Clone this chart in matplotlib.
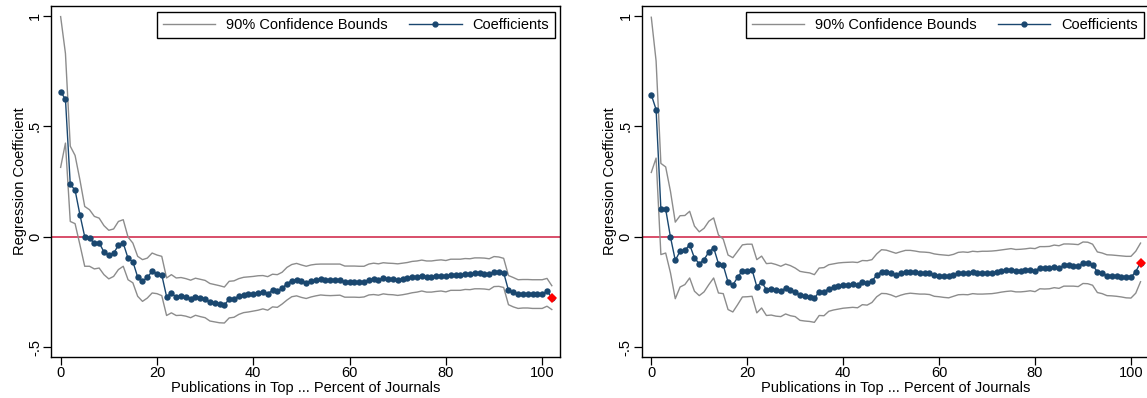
import matplotlib
matplotlib.use("Agg")
import matplotlib.pyplot as plt
from matplotlib.lines import Line2D

plt.rcParams['font.family'] = ['Liberation Sans', 'DejaVu Sans']

# x values: "top ... percent of journals"
pct = list(range(0, 103))

# left panel
left_coef = [
    0.656, 0.623, 0.237, 0.211, 0.100, 0.000, -0.008, -0.029, -0.028, -0.069,
    -0.084, -0.075, -0.039, -0.029, -0.098, -0.113, -0.183, -0.201, -0.184, -0.157,
    -0.167, -0.173, -0.271, -0.256, -0.273, -0.270, -0.274, -0.282, -0.271, -0.276,
    -0.281, -0.297, -0.302, -0.306, -0.308, -0.284, -0.281, -0.270, -0.264, -0.261,
    -0.258, -0.256, -0.252, -0.258, -0.243, -0.246, -0.234, -0.213, -0.199, -0.195,
    -0.202, -0.208, -0.200, -0.196, -0.193, -0.195, -0.196, -0.196, -0.195, -0.204,
    -0.204, -0.204, -0.205, -0.204, -0.195, -0.192, -0.195, -0.189, -0.192, -0.193,
    -0.195, -0.192, -0.189, -0.184, -0.181, -0.176, -0.181, -0.181, -0.178, -0.176,
    -0.180, -0.173, -0.173, -0.173, -0.169, -0.170, -0.166, -0.166, -0.167, -0.170,
    -0.158, -0.158, -0.163, -0.243, -0.252, -0.261, -0.259, -0.259, -0.261, -0.261,
    -0.261, -0.247, -0.276,
]
left_upper = [
    0.997, 0.830, 0.410, 0.368, 0.258, 0.137, 0.122, 0.092, 0.084, 0.050,
    0.029, 0.035, 0.069, 0.077, -0.002, -0.029, -0.089, -0.104, -0.097, -0.074,
    -0.083, -0.089, -0.187, -0.172, -0.187, -0.185, -0.190, -0.197, -0.188, -0.193,
    -0.198, -0.212, -0.217, -0.222, -0.228, -0.202, -0.200, -0.190, -0.184, -0.182,
    -0.180, -0.177, -0.176, -0.181, -0.170, -0.172, -0.161, -0.139, -0.126, -0.121,
    -0.128, -0.134, -0.128, -0.125, -0.124, -0.124, -0.124, -0.124, -0.124, -0.133,
    -0.133, -0.133, -0.134, -0.134, -0.124, -0.120, -0.123, -0.118, -0.120, -0.121,
    -0.123, -0.120, -0.117, -0.112, -0.110, -0.106, -0.110, -0.110, -0.107, -0.105,
    -0.108, -0.102, -0.102, -0.102, -0.099, -0.100, -0.096, -0.096, -0.097, -0.100,
    -0.090, -0.092, -0.098, -0.176, -0.185, -0.195, -0.194, -0.194, -0.195, -0.195,
    -0.195, -0.189, -0.222,
]
left_lower = [
    0.314, 0.424, 0.069, 0.059, -0.036, -0.134, -0.134, -0.146, -0.142, -0.172,
    -0.191, -0.180, -0.149, -0.134, -0.195, -0.209, -0.270, -0.293, -0.278, -0.255,
    -0.258, -0.267, -0.357, -0.345, -0.357, -0.356, -0.360, -0.367, -0.356, -0.362,
    -0.367, -0.382, -0.386, -0.390, -0.391, -0.368, -0.365, -0.352, -0.344, -0.341,
    -0.337, -0.333, -0.327, -0.333, -0.318, -0.320, -0.305, -0.287, -0.272, -0.268,
    -0.275, -0.280, -0.273, -0.268, -0.264, -0.266, -0.267, -0.266, -0.265, -0.274,
    -0.274, -0.274, -0.275, -0.273, -0.264, -0.262, -0.265, -0.259, -0.262, -0.263,
    -0.266, -0.263, -0.259, -0.254, -0.251, -0.246, -0.251, -0.251, -0.248, -0.246,
    -0.250, -0.243, -0.243, -0.243, -0.239, -0.240, -0.236, -0.236, -0.237, -0.240,
    -0.226, -0.225, -0.230, -0.308, -0.318, -0.325, -0.323, -0.323, -0.325, -0.325,
    -0.325, -0.315, -0.330,
]

# right panel
right_coef = [
    0.643, 0.576, 0.125, 0.124, -0.002, -0.107, -0.066, -0.062, -0.036, -0.097,
    -0.122, -0.104, -0.069, -0.050, -0.122, -0.130, -0.205, -0.219, -0.184, -0.154,
    -0.154, -0.149, -0.226, -0.205, -0.240, -0.236, -0.243, -0.246, -0.234, -0.243,
    -0.249, -0.266, -0.270, -0.273, -0.279, -0.249, -0.252, -0.235, -0.229, -0.225,
    -0.221, -0.219, -0.216, -0.219, -0.205, -0.209, -0.200, -0.175, -0.158, -0.159,
    -0.166, -0.175, -0.166, -0.161, -0.158, -0.161, -0.164, -0.164, -0.166, -0.175,
    -0.176, -0.178, -0.178, -0.173, -0.166, -0.164, -0.166, -0.160, -0.163, -0.164,
    -0.163, -0.163, -0.160, -0.155, -0.151, -0.149, -0.154, -0.154, -0.152, -0.149,
    -0.154, -0.142, -0.143, -0.143, -0.137, -0.142, -0.130, -0.130, -0.131, -0.134,
    -0.119, -0.119, -0.127, -0.160, -0.166, -0.176, -0.176, -0.178, -0.181, -0.184,
    -0.184, -0.158, -0.118,
]
right_upper = [
    0.994, 0.796, 0.332, 0.316, 0.205, 0.066, 0.095, 0.096, 0.115, 0.048,
    0.022, 0.038, 0.070, 0.085, 0.008, -0.011, -0.083, -0.095, -0.066, -0.037,
    -0.034, -0.034, -0.104, -0.088, -0.122, -0.120, -0.126, -0.134, -0.124, -0.131,
    -0.142, -0.157, -0.161, -0.164, -0.172, -0.142, -0.140, -0.127, -0.123, -0.119,
    -0.117, -0.116, -0.115, -0.117, -0.108, -0.109, -0.104, -0.078, -0.059, -0.061,
    -0.068, -0.075, -0.068, -0.062, -0.062, -0.065, -0.069, -0.070, -0.072, -0.078,
    -0.081, -0.083, -0.085, -0.080, -0.071, -0.069, -0.071, -0.066, -0.068, -0.066,
    -0.066, -0.065, -0.063, -0.060, -0.057, -0.054, -0.058, -0.057, -0.055, -0.052,
    -0.054, -0.045, -0.045, -0.044, -0.038, -0.041, -0.033, -0.033, -0.034, -0.036,
    -0.024, -0.025, -0.034, -0.069, -0.074, -0.082, -0.083, -0.085, -0.087, -0.089,
    -0.089, -0.066, -0.029,
]
right_lower = [
    0.291, 0.356, -0.081, -0.074, -0.164, -0.281, -0.228, -0.217, -0.187, -0.247,
    -0.267, -0.250, -0.217, -0.187, -0.255, -0.258, -0.330, -0.341, -0.308, -0.273,
    -0.272, -0.270, -0.345, -0.323, -0.357, -0.355, -0.360, -0.362, -0.350, -0.358,
    -0.362, -0.379, -0.382, -0.384, -0.388, -0.357, -0.358, -0.338, -0.332, -0.328,
    -0.324, -0.322, -0.320, -0.322, -0.308, -0.310, -0.298, -0.272, -0.257, -0.258,
    -0.264, -0.273, -0.265, -0.259, -0.256, -0.258, -0.260, -0.260, -0.262, -0.270,
    -0.272, -0.275, -0.277, -0.270, -0.263, -0.262, -0.263, -0.258, -0.260, -0.260,
    -0.259, -0.258, -0.255, -0.251, -0.248, -0.246, -0.250, -0.250, -0.248, -0.245,
    -0.249, -0.236, -0.237, -0.236, -0.231, -0.234, -0.224, -0.224, -0.224, -0.226,
    -0.212, -0.213, -0.220, -0.253, -0.258, -0.267, -0.268, -0.270, -0.273, -0.277,
    -0.278, -0.256, -0.204,
]

xticks = [0, 20, 40, 60, 80, 100]
yticks = [-0.5, 0, 0.5, 1]
ytick_labels = ['-.5', '0', '.5', '1']

NAVY = '#1a476f'
GREY = '#8c8c8c'
ZERO = '#d6405e'

W, H = 1147, 398
fig = plt.figure(figsize=(W / 100, H / 100), dpi=100)


def draw_panel(ax, coef, upper, lower):
    ax.axhline(0, color=ZERO, lw=1.3, zorder=1)
    ax.plot(pct, upper, color=GREY, lw=1.0, zorder=2)
    ax.plot(pct, lower, color=GREY, lw=1.0, zorder=2)
    ax.plot(pct, coef, color=NAVY, lw=1.0, marker='o', ms=4.6,
            markeredgewidth=0, zorder=3)
    # last point highlighted
    ax.plot(pct[-1:], coef[-1:], ls='none', marker='D', ms=4.8,
            color='#ff0000', markeredgewidth=0, zorder=4)

    ax.set_xlim(-2, 103.7)
    ax.set_ylim(-0.545, 1.045)
    ax.set_xticks(xticks)
    ax.set_yticks(yticks)
    ax.set_yticklabels(ytick_labels, rotation=90, va='center')
    ax.tick_params(direction='out', length=5.5, width=0.9, labelsize=10.5,
                   colors='black', pad=1)
    for s in ax.spines.values():
        s.set_linewidth(1.0)
        s.set_color('black')
    ax.set_xlabel('Publications in Top ... Percent of Journals', fontsize=10.5,
                  labelpad=1)
    ax.set_ylabel('Regression Coefficient', fontsize=10.5, labelpad=1)

    handles = [
        Line2D([], [], color=GREY, lw=1.0),
        Line2D([], [], color=NAVY, lw=1.0, marker='o', ms=3.5),
    ]
    leg = ax.legend(handles, ['90% Confidence Bounds', 'Coefficients'],
                    loc='upper right', ncol=2, fontsize=10.5,
                    frameon=True, fancybox=False, framealpha=1,
                    edgecolor='black', handlelength=3.6, handletextpad=0.75,
                    columnspacing=1.45, borderpad=0.4, borderaxespad=0,
                    bbox_to_anchor=(0.990, 0.983))
    leg.get_frame().set_linewidth(1.0)


ax1 = fig.add_axes([51 / W, 41 / H, 509 / W, 351 / H])
draw_panel(ax1, left_coef, left_upper, left_lower)

ax2 = fig.add_axes([641.7 / W, 41 / H, 507 / W, 351 / H])
draw_panel(ax2, right_coef, right_upper, right_lower)

fig.savefig('out.png', dpi=100)
